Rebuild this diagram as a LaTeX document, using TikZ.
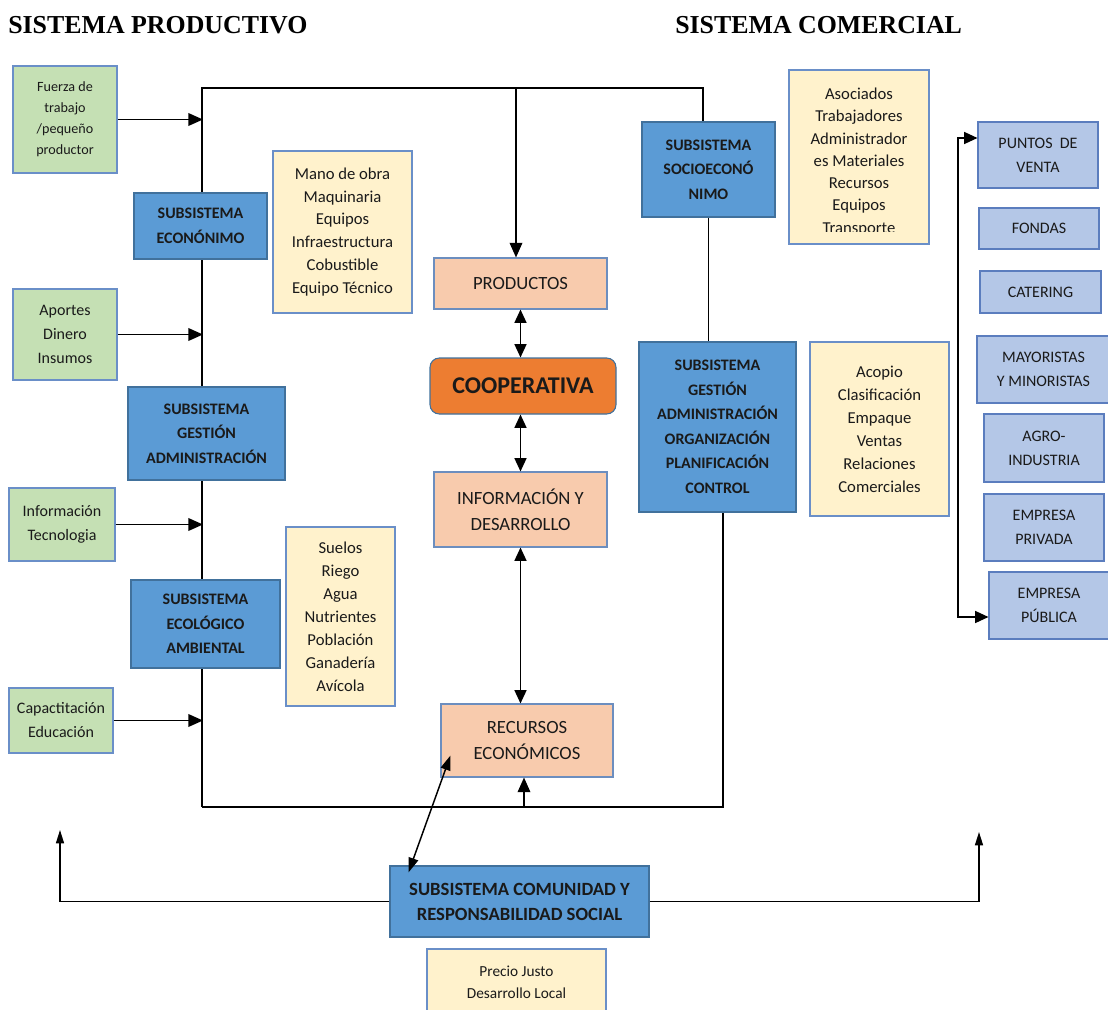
\documentclass[tikz,border=0pt]{standalone}
\usepackage{fontspec}
\setmainfont{Carlito}
\newfontfamily\titlefont{Liberation Serif}
\usetikzlibrary{calc,arrows.meta,backgrounds}
\definecolor{gfill}{HTML}{C5E0B4}
\definecolor{gdraw}{HTML}{6A8FC8}
\definecolor{yfill}{HTML}{FFF2CC}
\definecolor{ydraw}{HTML}{6A8FC8}
\definecolor{sfill}{HTML}{F8CBAD}
\definecolor{sdraw}{HTML}{6C8EBF}
\definecolor{bfill}{HTML}{5B9BD5}
\definecolor{bdraw}{HTML}{41719C}
\definecolor{lbfill}{HTML}{B4C7E7}
\definecolor{lbdraw}{HTML}{5B7DBE}
\definecolor{ofill}{HTML}{ED7D31}
\definecolor{txt}{HTML}{1A1A1A}
\begin{document}
\begin{tikzpicture}[x=0.75pt,y=-0.75pt,
  corners/.style n args={4}{minimum width={(#3-#1)*0.75pt}, minimum height={(#4-#2)*0.75pt}, at={({(#1+#3)/2},{(#2+#4)/2})}},
  base/.style={rectangle, inner sep=0pt, align=center, line width=0.8pt, text=txt},
  greenbox/.style={base, fill=gfill, draw=gdraw, font=\fontsize{12}{18}\selectfont},
  yelbox/.style={base, fill=yfill, draw=ydraw, font=\fontsize{12.5}{17.2}\selectfont},
  dbluebox/.style={base, fill=bfill, draw=bdraw, font=\bfseries\fontsize{12}{18.4}\selectfont},
  lbluebox/.style={base, fill=lbfill, draw=lbdraw, font=\fontsize{12}{18}\selectfont},
  salmonbox/.style={base, fill=sfill, draw=sdraw, font=\fontsize{14}{19.5}\selectfont},
  wire/.style={line width=1.1pt, draw=black},
  arr/.style={wire, -{Triangle[length=11pt,width=9.5pt]}},
  arrtwo/.style={wire, {Triangle[length=10pt,width=9pt]}-{Triangle[length=10pt,width=9pt]}},
  arrs/.style={wire, -{Triangle[length=10pt,width=6pt]}},
  arrtwos/.style={wire, {Triangle[length=11pt,width=7.5pt]}-{Triangle[length=11pt,width=7.5pt]}},
  titletext/.style={anchor=west, inner sep=0pt, font=\titlefont\bfseries\fontsize{19.4}{22}\selectfont}
]
\clip (0,0) rectangle (1108,1010);

% titles
\node[titletext] (tprod) at (8,25) {SISTEMA PRODUCTIVO};
\node[titletext] (tcom) at (675,25) {SISTEMA COMERCIAL};

% green boxes
\node[greenbox, font=\fontsize{10.6}{15.8}\selectfont, corners={13}{66}{117}{173}] (fuerza) {Fuerza de\\trabajo\\/pequeño\\productor};
\node[greenbox, corners={13}{289}{117}{380}] (aportes) {Aportes\\Dinero\\Insumos};
\node[greenbox, corners={9}{488}{115}{561}] (infog) {Información\\Tecnologia};
\node[greenbox, corners={9}{688}{113}{753}] (capac) {Capactitación\\Educación};

% dark blue boxes
\node[dbluebox, corners={134}{193}{267}{259}] (econ) {SUBSISTEMA\\ECONÓNIMO};
\node[dbluebox, corners={128}{387}{285}{480}] (gestL) {SUBSISTEMA\\GESTIÓN\\ADMINISTRACIÓN};
\node[dbluebox, corners={131}{580}{280}{668}] (ecol) {SUBSISTEMA\\ECOLÓGICO\\AMBIENTAL};
\node[dbluebox, corners={642}{122}{775}{217}] (socio) {SUBSISTEMA\\SOCIOECONÓ\\NIMO};
\node[dbluebox, corners={639}{342}{796}{512}] (gestR) {SUBSISTEMA\\GESTIÓN\\ADMINISTRACIÓN\\ORGANIZACIÓN\\PLANIFICACIÓN\\CONTROL};
\node[dbluebox, font=\bfseries\fontsize{14}{18.8}\selectfont, corners={390}{866}{649}{937}] (comun) {SUBSISTEMA COMUNIDAD Y\\RESPONSABILIDAD SOCIAL};

% yellow boxes
\node[yelbox, corners={273}{151}{412}{313}] (mano) {Mano de obra\\Maquinaria\\Equipos\\Infraestructura\\Cobustible\\Equipo Técnico};
\node[yelbox, corners={286}{527}{395}{706}] (suelos) {Suelos\\Riego\\Agua\\Nutrientes\\Población\\Ganadería\\Avícola};
\node[yelbox, corners={789}{70}{929}{244}] (asoc) {};
\begin{scope}
  \clip (790,71) rectangle (928,231);
  \node[base, anchor=north, font=\fontsize{12.5}{16.7}\selectfont] (asoctext) at ($(asoc.north)+(0,18)$) {Asociados\\Trabajadores\\Administrador\\es Materiales\\Recursos\\Equipos\\Transporte};
\end{scope}
\node[yelbox, corners={810}{342}{949}{516}] (acopio) {Acopio\\Clasificación\\Empaque\\Ventas\\Relaciones\\Comerciales};
\node[yelbox, font=\fontsize{11.5}{16.5}\selectfont, corners={427}{949}{606}{1016}] (precio) {Precio Justo\\Desarrollo Local};

% salmon boxes
\node[salmonbox, corners={434}{258}{607}{309}] (prod) {PRODUCTOS};
\node[base, fill=ofill, draw=bdraw, rounded corners=7pt, font=\bfseries\fontsize{18}{21}\selectfont, corners={430}{358}{616}{414}] (coop) {COOPERATIVA};
\node[salmonbox, corners={434}{472}{607}{547}] (infod) {INFORMACIÓN Y\\DESARROLLO};
\node[salmonbox, corners={441}{704}{613}{777}] (recur) {RECURSOS\\ECONÓMICOS};

% light blue boxes
\node[lbluebox, corners={978}{122}{1098}{188}] (puntos) {PUNTOS~ DE\\VENTA};
\node[lbluebox, corners={979}{208}{1099}{249}] (fondas) {FONDAS};
\node[lbluebox, corners={980}{271}{1101}{313}] (catering) {CATERING};
\node[lbluebox, corners={977}{336}{1110}{403}] (mayor) {MAYORISTAS\\Y MINORISTAS};
\node[lbluebox, corners={984}{414}{1104}{482}] (agro) {AGRO-\\INDUSTRIA};
\node[lbluebox, corners={984}{494}{1104}{561}] (priv) {EMPRESA\\PRIVADA};
\node[lbluebox, corners={989}{572}{1109}{639}] (publ) {EMPRESA\\PÚBLICA};

% coordinates
\coordinate (tl) at (202,88);
\coordinate (tr) at (703,88);
\coordinate (bl) at (202,807);
\coordinate (br) at (723,807);
\coordinate (tp) at (516,88);
\coordinate (bp) at (524,807);
\coordinate (L) at (203,0);
\coordinate (cl) at (60,830);
\coordinate (cr) at (979,832);
\coordinate (r1) at (958,138);
\coordinate (r2) at (958,617);

% frame lines behind boxes
\begin{scope}[on background layer]
  \draw[wire] (bl) -- (tl) -- (tr) -- (tr |- socio.north);
  \draw[wire] (bl) -- (br) -- (br |- gestR.south);
  \draw[wire] (socio.south) -- (socio.south |- gestR.north);
\end{scope}

% input arrows
\draw[arr] (fuerza.east) -- (fuerza.east -| L);
\draw[arr] (aportes.east) -- (aportes.east -| L);
\draw[arr] (infog.east) -- (infog.east -| L);
\draw[arr] (capac.east) -- (capac.east -| L);

% central arrows
\draw[arr] (tp) -- (tp |- prod.north);
\draw[arrtwo] (prod.south) -- (prod.south |- coop.north);
\draw[arrtwo] (infod.north |- coop.south) -- (infod.north);
\draw[arrtwo] (infod.south) -- (infod.south |- recur.north);
\draw[arr] (bp) -- (bp |- recur.south);
\draw[arrtwos] ($(recur.south west)+(10,-22)$) -- ($(comun.north west)+(19,7)$);

% community arrows
\draw[arrs] (comun.west) -| (cl);
\draw[arrs] (comun.east) -| (cr);

% commercial arrows
\draw[arrtwo] (r1 -| puntos.west) -- (r1) -- (r2) -- (r2 -| publ.west);
\end{tikzpicture}
\end{document}
